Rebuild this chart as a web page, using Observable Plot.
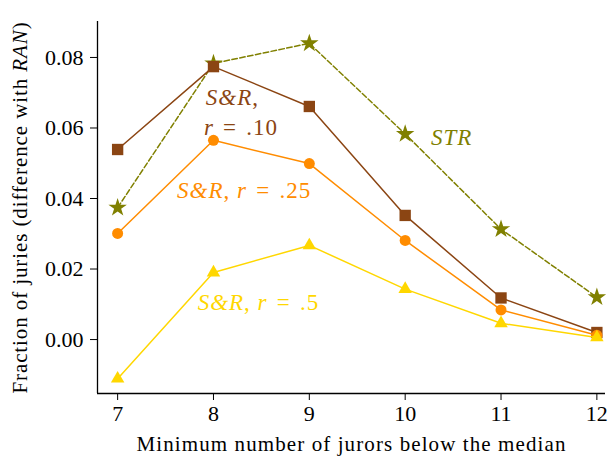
<!DOCTYPE html>
<html>
<head>
<meta charset="utf-8">
<script src="https://cdn.jsdelivr.net/npm/d3@7"></script>
<script src="https://cdn.jsdelivr.net/npm/@observablehq/plot@0.6"></script>
<style>
  html, body { margin: 0; padding: 0; background: #fff; }
  svg { font-family: "Liberation Serif", "DejaVu Serif", serif; }
</style>
</head>
<body>
<div id="chart"></div>
<script>
const jurors = [7, 8, 9, 10, 11, 12];
const sr10 = [0.0539, 0.0774, 0.0661, 0.0352, 0.0118, 0.0020];
const sr25 = [0.0301, 0.0565, 0.0499, 0.0281, 0.0084, 0.0012];
const sr50 = [-0.0111, 0.0190, 0.0267, 0.0143, 0.0046, 0.0006];
const str  = [0.0374, 0.0783, 0.0840, 0.0583, 0.0313, 0.0120];
const xTicks = [7, 8, 9, 10, 11, 12];
const yTicks = [0.00, 0.02, 0.04, 0.06, 0.08];

const colors = { sr10: "#8B4513", sr25: "#FF8C00", sr50: "#FFD700", str: "#808000" };

const annText = ["S&R,", "r = .10", "S&R, r = .25", "S&R, r = .5", "STR"];
const annX = [7.92, 7.90, 7.62, 7.835, 10.27];
const annY = [0.0687, 0.0601, 0.0423, 0.0105, 0.0573];
const annColor = [colors.sr10, colors.sr10, colors.sr25, colors.sr50, colors.str];
const annParts = [
  [["S&R", "i"], [",", "n"]],
  [["r", "i"], [" =", "eq"], [" .10", "n"]],
  [["S&R", "i"], [", ", "n"], ["r", "i"], [" =", "eq"], [" .25", "n"]],
  [["S&R", "i"], [", ", "n"], ["r", "i"], [" =", "eq"], [" .5", "n"]],
  [["STR", "i"]]
];
const ann = annText.map((t, i) => ({ t, x: annX[i], y: annY[i], c: annColor[i] }));

const rows = (vals) => jurors.map((x, i) => ({ x, y: vals[i] }));

const yLabel = "Fraction of juries (difference with RAN)";
const xLabel = "Minimum number of jurors below the median";

const plot = Plot.plot({
  width: 608,
  height: 456,
  marginLeft: 97,
  marginRight: 3,
  marginTop: 21,
  marginBottom: 63,
  style: { fontSize: "22px", fontFamily: "'Liberation Serif', serif", color: "#000", background: "#fff" },
  x: { domain: [6.79, 12.09], ticks: xTicks, tickSize: 7, tickPadding: 5, label: null, tickFormat: d3.format("d") },
  y: { domain: [-0.0153, 0.0902], ticks: yTicks, tickSize: 7, tickPadding: 7, label: null, tickFormat: d3.format(".2f") },
  marks: [
    Plot.ruleX([6.79], { stroke: "#000", strokeWidth: 1.3 }),
    Plot.ruleY([-0.0153], { stroke: "#000", strokeWidth: 1.3 }),
    Plot.line(rows(str), { x: "x", y: "y", stroke: colors.str, strokeWidth: 1.5, strokeDasharray: "5.5,2.5" }),
    Plot.dot(rows(str), { x: "x", y: "y", symbol: "star", r: 5.8, fill: colors.str }),
    Plot.line(rows(sr10), { x: "x", y: "y", stroke: colors.sr10, strokeWidth: 1.5 }),
    Plot.dot(rows(sr10), { x: "x", y: "y", symbol: "square", r: 6.4, fill: colors.sr10 }),
    Plot.line(rows(sr25), { x: "x", y: "y", stroke: colors.sr25, strokeWidth: 1.5 }),
    Plot.dot(rows(sr25), { x: "x", y: "y", symbol: "circle", r: 5.5, fill: colors.sr25 }),
    Plot.line(rows(sr50), { x: "x", y: "y", stroke: colors.sr50, strokeWidth: 1.5 }),
    Plot.dot(rows(sr50), { x: "x", y: "y", symbol: "triangle", r: 5.0, fill: colors.sr50 }),
    Plot.text(ann, { x: "x", y: "y", text: "t", fill: "c", textAnchor: "start", fontSize: 23 }),
    Plot.text([yLabel], { frameAnchor: "left", textAnchor: "middle", lineAnchor: "middle", rotate: -90, dx: -77, fontSize: 21 }),
    Plot.text([xLabel], { frameAnchor: "bottom", textAnchor: "middle", lineAnchor: "middle", dy: 51, fontSize: 21 })
  ]
});

const sel = d3.select(plot);
sel.selectAll("text").each(function () {
  const t = this.textContent;
  let parts = null;
  const el = d3.select(this);
  const k = annText.indexOf(t);
  if (k >= 0) { parts = annParts[k]; el.style("letter-spacing", "1px"); }
  else if (t === yLabel) { parts = [["Fraction of juries (difference with ", "n"], ["RAN", "i"], [")", "n"]]; el.style("letter-spacing", "0.9px"); }
  else if (t === xLabel) { el.style("letter-spacing", "1.1px"); }
  if (!parts) return;
  el.text(null);
  parts.forEach(([s, kind]) => {
    const ts = el.append("tspan").attr("font-style", kind === "i" ? "italic" : "normal").text(s);
    if (kind === "eq") ts.style("letter-spacing", "3.5px");
  });
});

document.getElementById("chart").appendChild(plot);
</script>
</body>
</html>
